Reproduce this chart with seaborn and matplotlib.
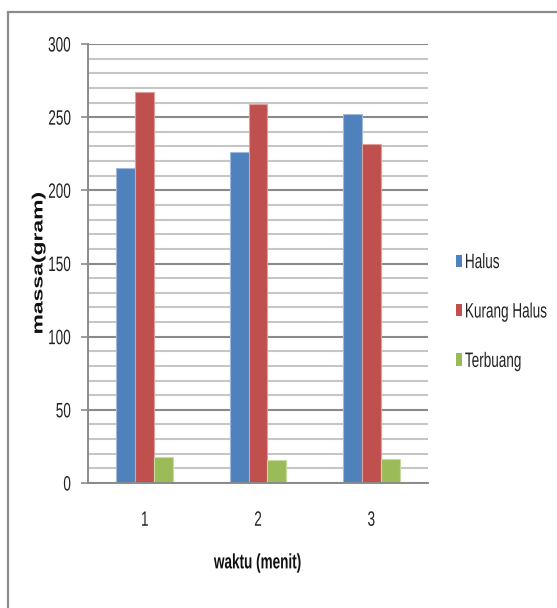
import matplotlib
matplotlib.use("Agg")
import matplotlib.pyplot as plt
from matplotlib.patches import Rectangle
from matplotlib.patheffects import AbstractPathEffect
from matplotlib.transforms import Affine2D
from matplotlib.ticker import MultipleLocator
from matplotlib.colors import to_rgb
import seaborn as sns
import pandas as pd

# Mass of each fraction after milling, per duration
waktu = ["1", "2", "3"]
halus = [215, 226, 252]
kurang_halus = [267, 259, 232]
terbuang = [18, 15.5, 16.5]
series_names = ["Halus", "Kurang Halus", "Terbuang"]
colors = ["#4f81bd", "#c0504d", "#9bbb59"]

df = pd.DataFrame({
    "waktu": waktu * 3,
    "massa": halus + kurang_halus + terbuang,
    "jenis": [s for s in series_names for _ in waktu],
})


class Condensed(AbstractPathEffect):
    """Squeeze glyph outlines to imitate a condensed typeface."""

    def __init__(self, sx=1.0, sy=1.0, anchor="center"):
        super().__init__()
        self.sx, self.sy, self.anchor = sx, sy, anchor

    def draw_path(self, renderer, gc, tpath, affine, rgbFace=None):
        ext = tpath.get_extents()
        if self.anchor == "left":
            cx = 0.0
        elif self.anchor == "right":
            cx = ext.x1
        else:
            cx = 0.5 * (ext.x0 + ext.x1)
        cy = 0.5 * (ext.y0 + ext.y1)
        squeeze = (Affine2D().translate(-cx, -cy)
                   .scale(self.sx, self.sy).translate(cx, cy))
        renderer.draw_path(gc, tpath, squeeze + affine, rgbFace)


def lighten(c, f=0.45):
    r, g, b = to_rgb(c)
    return (r + (1 - r) * f, g + (1 - g) * f, b + (1 - b) * f)


SQ = 0.65

sns.set_theme(style="white")
plt.rcParams["font.family"] = ["Liberation Sans", "DejaVu Sans"]

fig = plt.figure(figsize=(5.57, 6.08), dpi=100)
ax = fig.add_axes([88 / 557, 1 - 483 / 608, 340 / 557, 439 / 608])

sns.barplot(data=df, x="waktu", y="massa", hue="jenis", order=waktu,
            hue_order=series_names, palette=colors, width=0.5, gap=0,
            saturation=1, ax=ax, legend=True)
ax.set_xlim(-0.5, 2.5)
ax.set_ylim(0, 300)

# thin light rim around each bar
for container, col in zip(ax.containers, colors):
    for bar in container:
        bar.set_edgecolor(lighten(col))
        bar.set_linewidth(0.8)

ax.yaxis.set_major_locator(MultipleLocator(50))
ax.yaxis.set_minor_locator(MultipleLocator(10))
ax.set_axisbelow(True)
ax.grid(which="minor", axis="y", color="#c6c6c6", linewidth=1.5)
ax.grid(which="major", axis="y", color="#8a8a8a", linewidth=1.5)
ax.grid(axis="x", visible=False)

for side in ("top", "right"):
    ax.spines[side].set_visible(False)
for side in ("left", "bottom"):
    ax.spines[side].set_color("#8a8a8a")
    ax.spines[side].set_linewidth(1.4)

ax.tick_params(axis="y", which="major", left=True, length=5, width=1.2,
               color="#8a8a8a", labelsize=15, pad=7, labelcolor="#222222")
ax.tick_params(axis="y", which="minor", left=False)
ax.tick_params(axis="x", bottom=False, labelsize=15, pad=14,
               labelcolor="#222222")

ax.set_xlabel("waktu (menit)", fontsize=15, fontweight="bold", labelpad=17,
              color="#111111")
ax.set_ylabel("massa(gram)", fontsize=16.5, fontweight="bold",
              color="#111111", va="center")
ax.yaxis.set_label_coords((38 - 88) / 340, 0.5)

handles, labels = ax.get_legend_handles_labels()
ax.legend_.remove()
leg = fig.legend(handles, labels, loc="center left",
                 bbox_to_anchor=(437 / 557, 1 - 312 / 608), frameon=False,
                 fontsize=15, handlelength=0.29, handleheight=0.53,
                 handletextpad=0.15, labelspacing=1.46, labelcolor="#222222")
for h in leg.legend_handles:
    h.set_edgecolor("none")

# narrow lettering for every label
fig.canvas.draw()
for t in ax.get_yticklabels():
    t.set_path_effects([Condensed(sx=SQ, anchor="right")])
for t in ax.get_xticklabels():
    t.set_path_effects([Condensed(sx=SQ)])
ax.xaxis.label.set_path_effects([Condensed(sx=SQ)])
ax.yaxis.label.set_path_effects([Condensed(sy=SQ)])
for t in leg.get_texts():
    t.set_path_effects([Condensed(sx=SQ, anchor="left")])

# Outer chart-area border
fig.add_artist(Rectangle((8 / 557, -0.05), 1.1, 1 - 12 / 608 + 0.05,
                         transform=fig.transFigure, fill=False,
                         edgecolor="#8c8c8c", linewidth=1.6))

fig.savefig("out.png", dpi=100, facecolor="white")
